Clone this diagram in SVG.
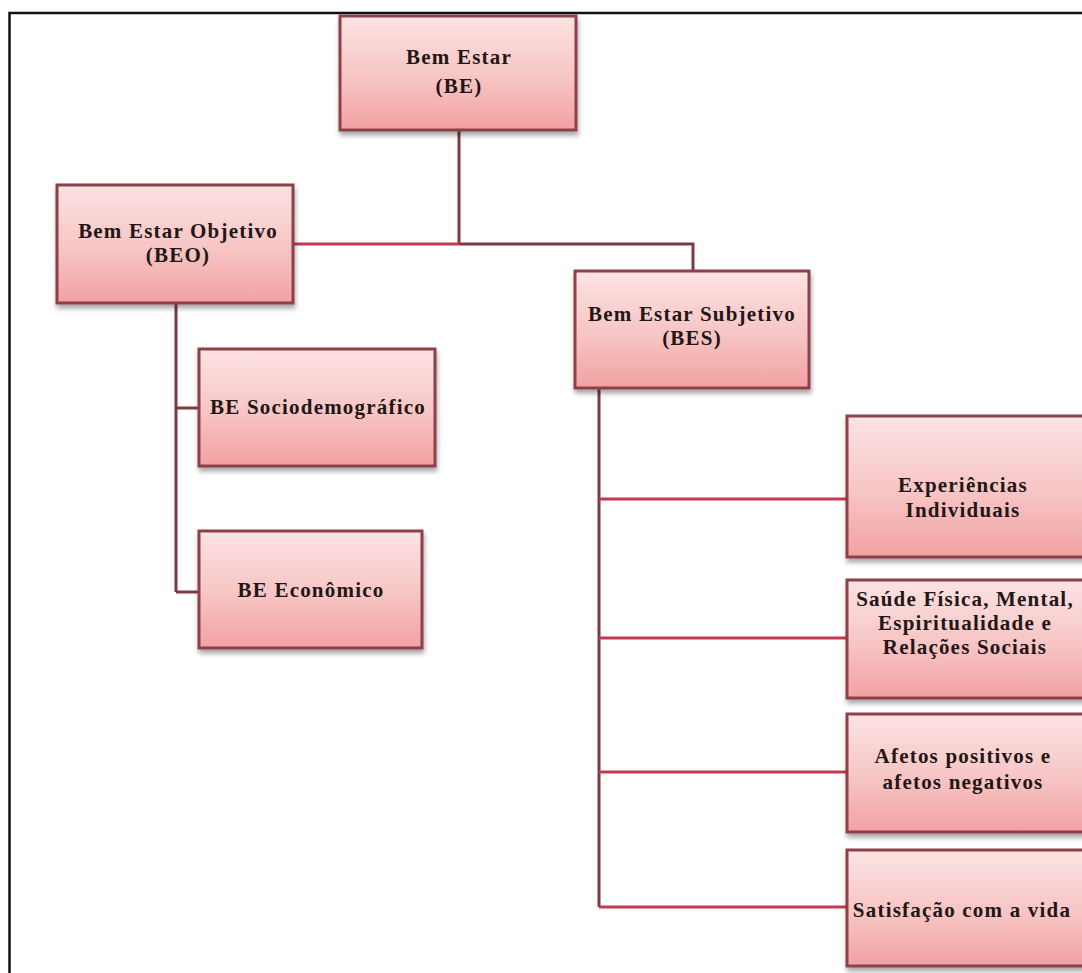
<svg xmlns="http://www.w3.org/2000/svg" width="1082" height="973" viewBox="0 0 1082 973">
<defs>
<linearGradient id="g" x1="0" y1="0" x2="0" y2="1">
<stop offset="0" stop-color="#fce3e3"/>
<stop offset="0.55" stop-color="#f7c4c4"/>
<stop offset="1" stop-color="#f2a1a1"/>
</linearGradient>
<filter id="sh" x="-10%" y="-10%" width="125%" height="130%">
<feGaussianBlur in="SourceAlpha" stdDeviation="2.5"/>
<feOffset dx="1" dy="4" result="b"/>
<feComponentTransfer><feFuncA type="linear" slope="0.35"/></feComponentTransfer>
<feMerge><feMergeNode/><feMergeNode in="SourceGraphic"/></feMerge>
</filter>
</defs>
<style>
.box{fill:url(#g);stroke:#8e4049;stroke-width:3;filter:url(#sh)}
.t{font-family:"Liberation Serif","Times New Roman",serif;font-weight:bold;font-size:21px;letter-spacing:1.2px;fill:#231616;text-anchor:middle}
.c{fill:none;stroke:#7c3a43;stroke-width:3}
.r{fill:none;stroke:#c33a50;stroke-width:3}
</style>
<rect x="0" y="0" width="1082" height="973" fill="#ffffff"/>
<rect x="9.5" y="13" width="1100" height="1000" fill="none" stroke="#111" stroke-width="2.5"/>
<g id="connectors">
<path class="c" d="M459 130 V244"/>
<path class="r" d="M293 244 H459"/>
<path class="c" d="M459 244 H693 V271"/>
<path class="c" d="M176 303 V592"/>
<path class="c" d="M176 408 H199 M176 592 H199"/>
<path class="c" d="M599 388 V907"/>
<path class="r" d="M599 499 H847 M599 638 H847 M599 772 H847 M599 907 H847"/>
</g>
<g id="be"><rect class="box" x="340" y="16" width="236" height="114"/>
<text class="t" x="459" y="64">Bem Estar</text><text class="t" x="459" y="93">(BE)</text></g>
<g id="beo"><rect class="box" x="57" y="185" width="236" height="118"/>
<text class="t" x="178" y="238">Bem Estar  Objetivo</text><text class="t" x="178" y="262">(BEO)</text></g>
<g id="bes"><rect class="box" x="575" y="271" width="234" height="117"/>
<text class="t" x="692" y="321">Bem Estar  Subjetivo</text><text class="t" x="692" y="345">(BES)</text></g>
<g id="socio"><rect class="box" x="199" y="349" width="236" height="117"/>
<text class="t" x="318" y="414">BE  Sociodemográfico</text></g>
<g id="eco"><rect class="box" x="199" y="531" width="223" height="117"/>
<text class="t" x="311" y="597">BE  Econômico</text></g>
<g id="exp"><rect class="box" x="847" y="416" width="240" height="141"/>
<text class="t" x="963" y="492">Experiências</text><text class="t" x="963" y="517">Individuais</text></g>
<g id="saude"><rect class="box" x="847" y="580" width="240" height="118"/>
<text class="t" x="965" y="606">Saúde Física, Mental,</text><text class="t" x="965" y="630">Espiritualidade e</text><text class="t" x="965" y="654">Relações Sociais</text></g>
<g id="afetos"><rect class="box" x="847" y="714" width="240" height="118"/>
<text class="t" x="963" y="763">Afetos positivos e</text><text class="t" x="963" y="789">afetos negativos</text></g>
<g id="satis"><rect class="box" x="847" y="850" width="240" height="116"/>
<text class="t" x="962" y="917">Satisfação com a vida</text></g>
</svg>
